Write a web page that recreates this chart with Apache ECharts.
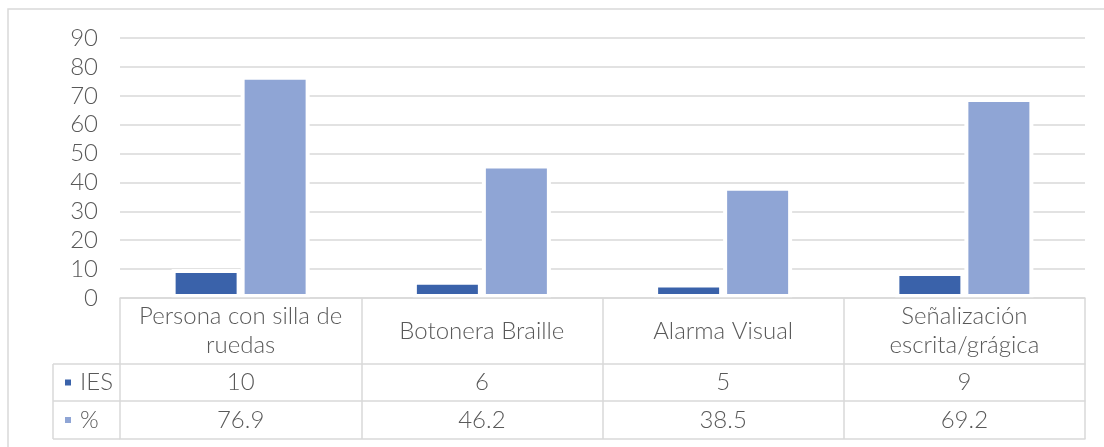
<!DOCTYPE html>
<html>
<head>
<meta charset="utf-8">
<script src="https://cdn.jsdelivr.net/npm/echarts@6/dist/echarts.min.js"></script>
<style>html,body{margin:0;padding:0;background:#fff;}#c{width:1104px;height:447px;}</style>
</head>
<body>
<div id="c"></div>
<script>
const categories = ['Persona con silla de\nruedas', 'Botonera Braille', 'Alarma Visual', 'Señalización\nescrita/grágica'];
const seriesNames = ['IES', '%'];
const iesValues = [10, 6, 5, 9];
const pctValues = [76.9, 46.2, 38.5, 69.2];
const yTicks = { min: 0, max: 90, interval: 10 };

const FONT = 'Lato';
const FW = 300;
const FS = 24;
const TXT = '#595959';
const LINE = '#d9d9d9';
const G = { left: 120, right: 19, top: 38, bottom: 149 };
const ROW1 = 66, ROW2 = 103, ROW3 = 141;

const chart = echarts.init(document.getElementById('c'));
const baseY = 447 - G.bottom;
const legendLeft = 53;

function tableAxis(data, offset, margin, showLabel) {
  return {
    type: 'category', data: data, position: 'bottom', offset: offset, z: 10,
    axisLine: { show: true, lineStyle: { color: LINE, width: 1.5 } },
    axisTick: { show: false },
    axisLabel: { show: showLabel, interval: 0, margin: margin, verticalAlign: 'middle',
      fontFamily: FONT, fontWeight: FW, fontSize: FS, color: TXT }
  };
}

chart.setOption({
  animation: false,
  backgroundColor: '#fff',
  grid: G,
  legend: {
    orient: 'vertical', left: 63, top: baseY + ROW1 + 18.5 - 12, itemGap: 13.5, padding: 0,
    itemWidth: 8, itemHeight: 8, icon: 'rect',
    textStyle: { fontFamily: FONT, fontWeight: FW, fontSize: FS, color: TXT, lineHeight: 24, padding: [0, 0, 0, 3] },
    data: seriesNames
  },
  xAxis: [
    {
      type: 'category', data: categories, z: 10,
      axisLine: { show: true, lineStyle: { color: LINE, width: 1.5 } },
      axisTick: { show: true, length: ROW3, lineStyle: { color: LINE, width: 1.5 } },
      axisLabel: { interval: 0, margin: 33, verticalAlign: 'middle', fontFamily: FONT, fontWeight: FW,
        fontSize: FS, lineHeight: 29, color: TXT, align: 'center' }
    },
    tableAxis(iesValues.map(String), ROW1, 18.5, true),
    tableAxis(pctValues.map(String), ROW2, 19, true),
    tableAxis(iesValues.map(String), ROW3, 10, false)
  ],
  yAxis: {
    type: 'value', min: yTicks.min, max: yTicks.max, interval: yTicks.interval,
    axisLine: { show: false }, axisTick: { show: false },
    axisLabel: { margin: 22, fontFamily: FONT, fontWeight: FW, fontSize: FS, color: TXT },
    splitLine: { lineStyle: { color: LINE, width: 1.5 } }
  },
  series: [
    { name: seriesNames[0], type: 'bar', data: iesValues, barWidth: 69, barGap: '0%',
      itemStyle: { color: '#3a62aa', borderColor: '#fff', borderWidth: 4 } },
    { name: seriesNames[1], type: 'bar', data: pctValues, barWidth: 69,
      itemStyle: { color: '#8fa5d5', borderColor: '#fff', borderWidth: 4 } }
  ],
  graphic: [
    { type: 'rect', shape: { x: 8, y: 9, width: 1300, height: 600 }, z: -10,
      style: { fill: 'none', stroke: LINE, lineWidth: 1.5 } },
    { type: 'line', shape: { x1: legendLeft, y1: baseY + ROW1, x2: legendLeft, y2: baseY + ROW3 },
      style: { stroke: LINE, lineWidth: 1.5 } },
    { type: 'line', shape: { x1: legendLeft, y1: baseY + ROW1, x2: G.left, y2: baseY + ROW1 },
      style: { stroke: LINE, lineWidth: 1.5 } },
    { type: 'line', shape: { x1: legendLeft, y1: baseY + ROW2, x2: G.left, y2: baseY + ROW2 },
      style: { stroke: LINE, lineWidth: 1.5 } },
    { type: 'line', shape: { x1: legendLeft, y1: baseY + ROW3, x2: G.left, y2: baseY + ROW3 },
      style: { stroke: LINE, lineWidth: 1.5 } }
  ]
});
</script>
</body>
</html>
